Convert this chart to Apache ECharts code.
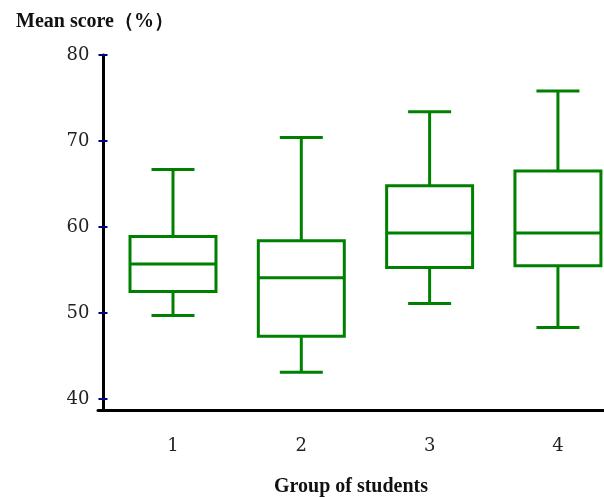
<!DOCTYPE html>
<html>
<head>
<meta charset="utf-8">
<script src="https://cdn.jsdelivr.net/npm/echarts@6/dist/echarts.min.js"></script>
<style>html,body{margin:0;padding:0;background:#fff}#c{width:604px;height:497px}</style>
</head>
<body>
<div id="c"></div>
<script>
const groups = [1, 2, 3, 4];
const mins    = [49.7, 43.1, 51.1, 48.3];
const q1s     = [52.5, 47.3, 55.3, 55.5];
const medians = [55.7, 54.1, 59.3, 59.3];
const q3s     = [58.9, 58.4, 64.8, 66.5];
const maxs    = [66.7, 70.4, 73.4, 75.8];
const yTicks = [40, 50, 60, 70, 80];
const xTicks = [1, 2, 3, 4];

const GREEN = '#008000';
const data = groups.map((g, i) => [g, mins[i], q1s[i], medians[i], q3s[i], maxs[i]]);

const chart = echarts.init(document.getElementById('c'), null, {renderer: 'canvas'});
const serif = 'DejaVu Serif';
const yMin = 38.72, yMax = 80;

chart.setOption({
  animation: false,
  backgroundColor: '#fff',
  title: {
    text: 'Mean score（%）',
    left: 11, top: 7,
    textStyle: {fontFamily: 'Liberation Serif', fontWeight: 'bold', fontSize: 20, color: '#111'}
  },
  grid: {left: 98, right: 0, top: 55, bottom: 87, outerBoundsMode: 'none', containLabel: false},
  xAxis: {
    type: 'value', min: 0.4156, max: 4.359,
    name: 'Group of students', nameLocation: 'middle', nameGap: 67,
    nameTextStyle: {fontFamily: 'Liberation Serif', fontWeight: 'bold', fontSize: 20, color: '#111'},
    axisLine: {show: true, onZero: false, lineStyle: {color: '#000', width: 3}},
    axisTick: {show: false},
    splitLine: {show: false},
    axisLabel: {customValues: xTicks, margin: 27, fontFamily: serif, fontSize: 18, color: '#222'}
  },
  yAxis: [{
    type: 'value', min: yMin, max: yMax, offset: -5.5,
    axisLine: {show: true, onZero: false, lineStyle: {color: '#000', width: 3}},
    axisTick: {show: true, customValues: yTicks, length: 5, lineStyle: {color: '#000080', width: 2}},
    splitLine: {show: false},
    axisLabel: {customValues: yTicks, margin: 14, fontFamily: serif, fontSize: 18, color: '#222'}
  }, {
    type: 'value', min: yMin, max: yMax, offset: -5.5, position: 'left',
    axisLine: {show: false},
    axisTick: {show: true, inside: true, customValues: yTicks, length: 4, lineStyle: {color: '#000080', width: 2}},
    splitLine: {show: false},
    axisLabel: {show: false}
  }],
  series: [{
    type: 'custom',
    data: data,
    encode: {x: 0, y: [1, 2, 3, 4, 5]},
    renderItem: function (params, api) {
      const x = api.value(0);
      const w = api.size([0.67, 0])[0];
      const pMin = api.coord([x, api.value(1)]);
      const pQ1 = api.coord([x, api.value(2)]);
      const pMed = api.coord([x, api.value(3)]);
      const pQ3 = api.coord([x, api.value(4)]);
      const pMax = api.coord([x, api.value(5)]);
      const cx = pMin[0];
      const st = {stroke: GREEN, lineWidth: 3, fill: null};
      return {
        type: 'group',
        children: [
          {type: 'rect', shape: {x: cx - w / 2, y: pQ3[1], width: w, height: pQ1[1] - pQ3[1]}, style: Object.assign({}, st, {fill: 'none'})},
          {type: 'line', shape: {x1: cx - w / 2, y1: pMed[1], x2: cx + w / 2, y2: pMed[1]}, style: st},
          {type: 'line', shape: {x1: cx, y1: pQ3[1], x2: cx, y2: pMax[1]}, style: st},
          {type: 'line', shape: {x1: cx, y1: pQ1[1], x2: cx, y2: pMin[1]}, style: st},
          {type: 'line', shape: {x1: cx - w / 4, y1: pMax[1], x2: cx + w / 4, y2: pMax[1]}, style: st},
          {type: 'line', shape: {x1: cx - w / 4, y1: pMin[1], x2: cx + w / 4, y2: pMin[1]}, style: st}
        ]
      };
    }
  }]
});
</script>
</body>
</html>
